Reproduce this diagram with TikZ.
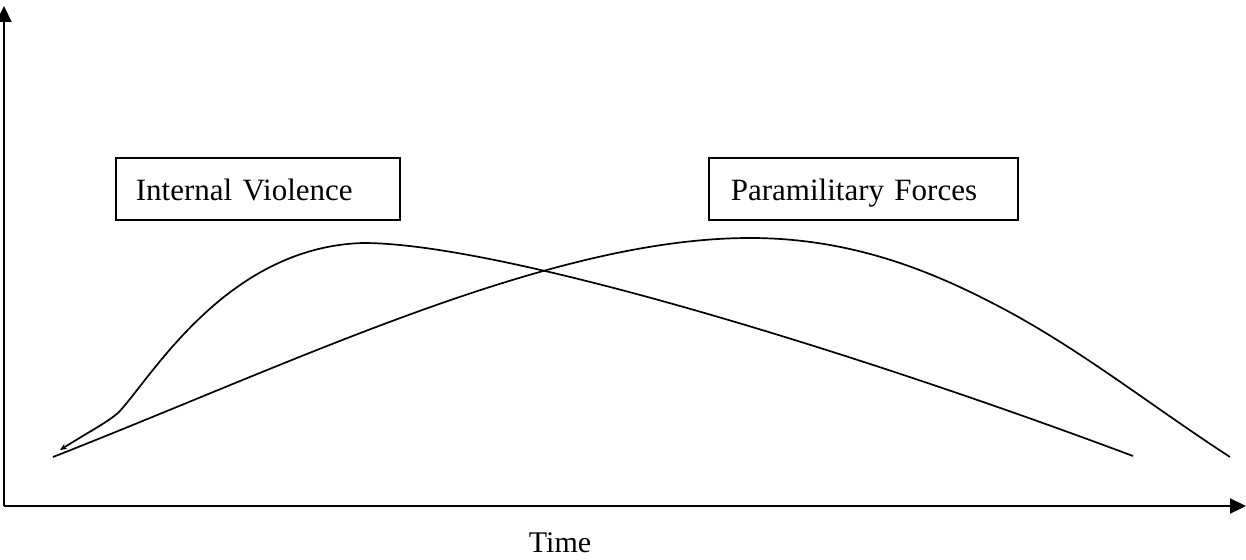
\documentclass[tikz,border=0pt]{standalone}
\usepackage{fontspec}
\setmainfont{Liberation Serif}
\usetikzlibrary{arrows.meta}
\begin{document}
\begin{tikzpicture}[x=1pt,y=-1pt,
  axis/.style={line width=2.2pt, -{Triangle[length=16pt,width=15pt]}},
  curve/.style={line width=1.7pt},
  labelbox/.style={draw, line width=1.7pt, anchor=north west, minimum height=62pt, inner ysep=0pt, text height=26pt, text depth=2pt, align=left, font=\fontsize{31}{36}\selectfont},
  lbl/.style={font=\fontsize{30}{36}\selectfont}]
\useasboundingbox (0,0) rectangle (1246,559);
\coordinate (O) at (4,506);
\coordinate (ytop) at (4,6);
\coordinate (xend) at (1246,506);
\draw[axis] (O) -- (ytop);
\draw[axis] (O) -- (xend);
\node[labelbox, text width=244pt, inner xsep=20pt] (iv) at (115,157) {Internal Violence};
\node[labelbox, text width=265pt, inner xsep=22pt] (pf) at (708,157) {Paramilitary Forces};
\node[lbl, anchor=base, inner sep=1pt] (time) at (560,552) {Time};
\coordinate (a0) at (60,450);
\coordinate (a1) at (118,413);
\coordinate (a2) at (363,243);
\coordinate (a3) at (1133,456);
\draw[curve, {Stealth[length=7pt,width=6pt]}-] (a0) .. controls (92,430) and (106,423) .. (a1)
  .. controls (150,380) and (225,247) .. (a2)
  .. controls (500,243) and (850,350) .. (a3);
\coordinate (b0) at (53,457);
\coordinate (b1) at (750,238);
\coordinate (b2) at (1000,307);
\coordinate (b3) at (1230,457);
\draw[curve] (b0) .. controls (300,360) and (550,238) .. (b1)
  .. controls (850,238) and (930,270) .. (b2)
  .. controls (1080,349) and (1150,405) .. (b3);
\end{tikzpicture}
\end{document}
